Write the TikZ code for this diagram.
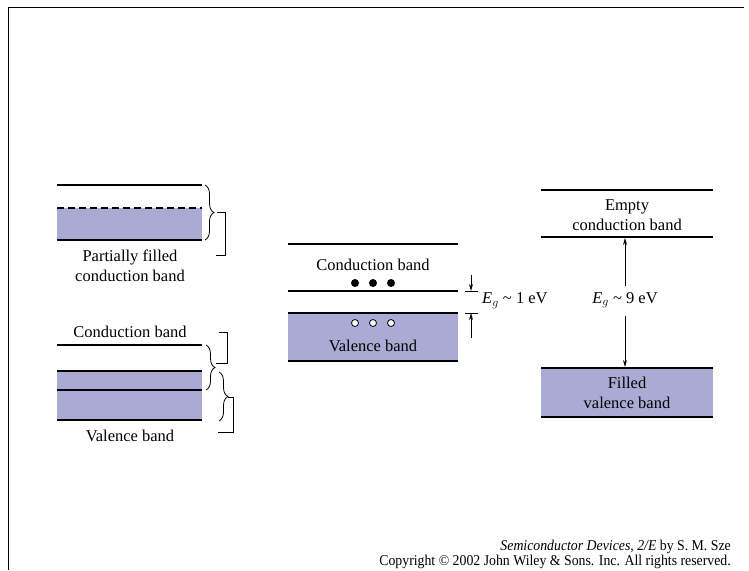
\documentclass[tikz,border=0pt]{standalone}
\usepackage{fontspec}
\setmainfont{Liberation Serif}
\usetikzlibrary{decorations.pathreplacing,arrows.meta}
\definecolor{bandfill}{RGB}{170,170,212}
\tikzset{
  lbl/.style={font=\fontsize{16.5}{20.5}\selectfont, inner sep=0pt, align=center},
  foot/.style={font=\fontsize{15}{15}\selectfont, inner sep=0pt, anchor=east},
  thickedge/.style={line width=2.8pt},
  thinedge/.style={line width=1.3pt},
  band/.style={fill=bandfill, draw=none},
  brc/.style={decorate, decoration={brace, amplitude=9pt}, line width=0.8pt},
  brk/.style={line width=0.8pt},
  gaparrow/.style={line width=0.8pt, -{Stealth[length=7pt,width=4pt]}},
}
\begin{document}
\begin{tikzpicture}[x=1pt,y=-1pt]
\useasboundingbox (0,0) rectangle (749,570);
% frame
\draw[line width=1pt] (8,570) -- (8,7) -- (744,7);

% ---------- left top: partially filled ----------
\fill[band] (57,208) rectangle (202,240);
\draw[thickedge] (57,185) -- (202,185);
\draw[thinedge, dash pattern=on 7pt off 4pt] (57,208) -- (202,208);
\draw[thickedge] (57,240) -- (202,240);
\draw[brc] (205,185) -- (205,240);
\draw[brk] (217,212) -- (225,212) -- (225,255) -- (216,255);
\node[lbl] (pf) at (130,266) {Partially filled\\conduction band};

% ---------- left bottom: overlapping bands ----------
\node[lbl] (cbl) at (130,332) {Conduction band};
\fill[band] (57,371) rectangle (202,420);
\draw[thickedge] (57,345) -- (202,345);
\draw[thinedge] (57,371) -- (202,371);
\draw[thinedge] (57,390) -- (202,390);
\draw[thickedge] (57,420) -- (202,420);
\draw[brc] (206,345) -- (206,390);
\draw[brk] (219,332) -- (227,332) -- (227,363) -- (216,363);
\draw[brc] (219,372) -- (219,421);
\draw[brk] (228,397) -- (233,397) -- (233,432) -- (218,432);
\node[lbl] (vbl) at (130,436) {Valence band};

% ---------- middle: semiconductor ----------
\fill[band] (288,313) rectangle (458,361);
\draw[thickedge] (288,244) -- (458,244);
\node[lbl] (cbm) at (373,265) {Conduction band};
\foreach \x/\n in {355/e1,373/e2,391/e3}
  \node[circle, fill=black, minimum size=8pt, inner sep=0pt] (\n) at (\x,283) {};
\draw[thinedge] (288,291) -- (458,291);
\draw[thinedge] (288,313) -- (458,313);
\foreach \x/\n in {355/h1,373/h2,391/h3}
  \node[circle, draw=black, fill=white, line width=0.8pt, minimum size=7pt, inner sep=0pt] (\n) at (\x,323) {};
\node[lbl] (vbm) at (373,346) {Valence band};
\draw[thickedge] (288,361) -- (458,361);
% gap marker
\coordinate (tt) at (471,291);
\coordinate (tb) at (471,313);
\draw[brk] (465,291) -- (478,291);
\draw[brk] (465,313) -- (478,313);
\coordinate (ta) at (471,275);
\coordinate (ba) at (471,338);
\draw[gaparrow] (ta) -- (tt);
\draw[gaparrow] (ba) -- (tb);
\node[lbl, anchor=west] (eg1) at (482,301) {$\mathit{E}_g$ \textasciitilde\ 1 eV};

% ---------- right: insulator ----------
\fill[band] (541,368) rectangle (713,417);
\draw[thickedge] (541,190) -- (713,190);
\node[lbl] (ecb) at (627,215) {Empty\\conduction band};
\draw[thinedge] (541,237) -- (713,237);
\node[lbl] (eg9) at (625,300) {$\mathit{E}_g$ \textasciitilde\ 9 eV};
\coordinate (cbe) at (625,238);
\coordinate (vbe) at (625,367);
\draw[gaparrow] (eg9.north -| cbe) ++(0,-6) -- (cbe);
\draw[gaparrow] (eg9.south -| vbe) ++(0,8) -- (vbe);
\draw[thinedge] (541,368) -- (713,368);
\draw[thickedge] (541,417) -- (713,417);
\node[lbl] (fvb) at (627,393) {Filled\\valence band};

% ---------- footer ----------
\node[foot] (f1) at (731,547) {\scalebox{0.92}[1]{\textit{Semiconductor Devices, 2/E} by S. M. Sze}};
\node[foot] (f2) at (731,562) {\scalebox{0.92}[1]{Copyright \textcopyright\ 2002 John Wiley \& Sons. Inc. All rights reserved.}};
\end{tikzpicture}
\end{document}
